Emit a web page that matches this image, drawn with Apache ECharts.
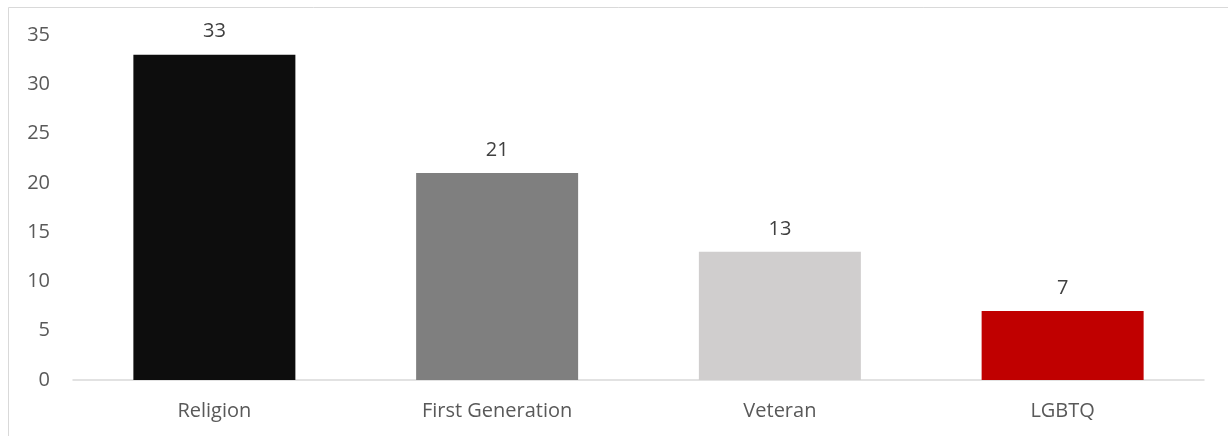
<!DOCTYPE html>
<html>
<head>
<meta charset="utf-8">
<script src="https://cdn.jsdelivr.net/npm/echarts@6/dist/echarts.min.js"></script>
<style>
  html, body { margin: 0; padding: 0; background: #ffffff; }
  #chart { width: 1228px; height: 436px; }
</style>
</head>
<body>
<div id="chart"></div>
<script>
// Group names along the x axis
const categories = ['Religion', 'First Generation', 'Veteran', 'LGBTQ'];
// Count for each group
const counts = [33, 21, 13, 7];
// Fill colour for each bar
const barColors = ['#0d0d0d', '#7f7f7f', '#d0cece', '#c00000'];
// Value axis range and step
const yMin = 0;
const yMax = 35;
const yStep = 5;

const chart = echarts.init(document.getElementById('chart'), null, { renderer: 'canvas' });

const font = '"Open Sans", "Noto Sans", sans-serif';

chart.setOption({
  animation: false,
  backgroundColor: '#ffffff',
  graphic: [{
    type: 'rect',
    shape: { x: 8.5, y: 7.5, width: 1400, height: 600 },
    style: { fill: 'none', stroke: '#d9d9d9', lineWidth: 1 },
    silent: true
  }],
  grid: { left: 73, right: 24, top: 35, bottom: 56, containLabel: false },
  xAxis: {
    type: 'category',
    data: categories,
    axisLine: { show: true, lineStyle: { color: '#d9d9d9', width: 1.5 } },
    axisTick: { show: false },
    axisLabel: { color: '#595959', fontFamily: font, fontSize: 20, margin: 21 },
    splitLine: { show: false }
  },
  yAxis: {
    type: 'value',
    min: yMin,
    max: yMax,
    interval: yStep,
    axisLine: { show: false },
    axisTick: { show: false },
    splitLine: { show: false },
    axisLabel: { color: '#595959', fontFamily: font, fontSize: 20, margin: 23 }
  },
  series: [{
    type: 'bar',
    barWidth: 162,
    data: counts.map((v, i) => ({ value: v, itemStyle: { color: barColors[i] } })),
    label: {
      show: true,
      position: 'top',
      distance: 13,
      color: '#404040',
      fontFamily: font,
      fontSize: 20
    }
  }]
});
</script>
</body>
</html>
